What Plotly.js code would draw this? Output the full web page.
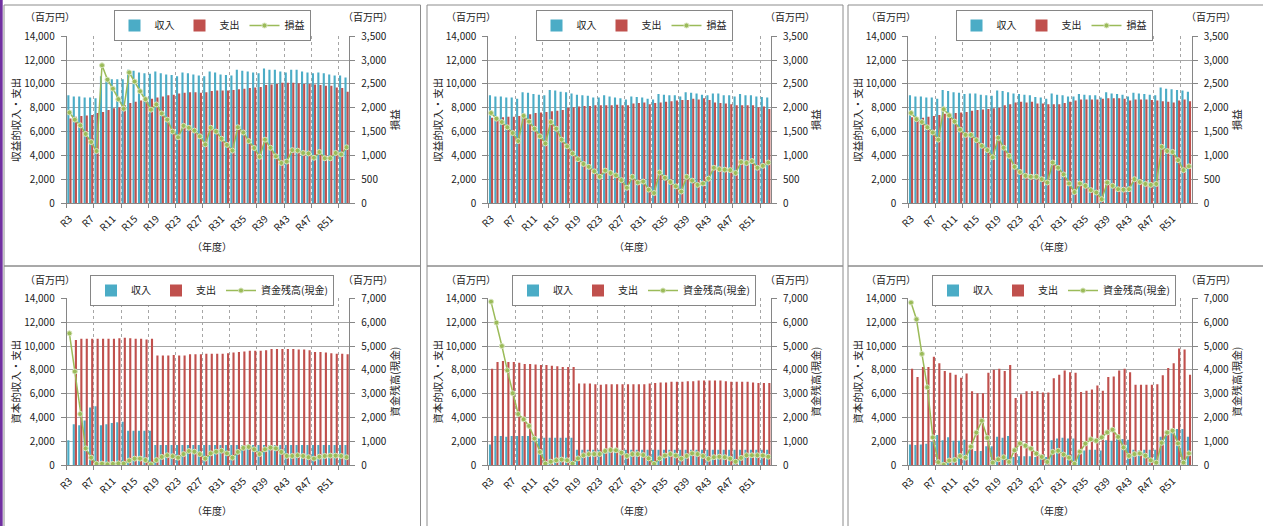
<!DOCTYPE html>
<html><head><meta charset="utf-8">
<script src="https://cdn.plot.ly/plotly-3.0.1.min.js"></script>
<style>html,body{margin:0;padding:0;background:#fff;}#chart{width:1263px;height:526px;}</style>
</head><body><div id="chart"></div>
<script>
const years = ['R3','R4','R5','R6','R7','R8','R9','R10','R11','R12','R13','R14','R15','R16','R17','R18','R19','R20','R21','R22','R23','R24','R25','R26','R27','R28','R29','R30','R31','R32','R33','R34','R35','R36','R37','R38','R39','R40','R41','R42','R43','R44','R45','R46','R47','R48','R49','R50','R51','R52','R53','R54'];
const tickLabels = ['R3','R7','R11','R15','R19','R23','R27','R31','R35','R39','R43','R47','R51'];

// Panel 1 (収益的)
const p1Income = [9050,8950,8950,8850,8850,8800, 10650,10450,10400,10400,10400, 11200,11100,10950,10900,10850, 11050,10900,10800,10750,10650, 10950,10900,10800,10700,10650, 11050,10950,10800,10750,10700, 11200,11100,11050,10950,10900, 11300,11200,11200,11050,10950, 11200,11200,11050,10950,10900, 10950,10900,10800,10700,10700,10550];
const p1Expense = [7100,7250,7300,7350,7400,7550, 7650,7800,7950,8050,8200, 8400,8500,8600,8650,8750, 8850,8950,9050,9100,9200, 9250,9300,9300,9250,9300, 9400,9450,9450,9450,9500, 9550,9600,9650,9700,9750, 9900,9950,10000,10100,10100, 10100,10050,10000,10000,9950, 9900,9850,9850,9700,9650,9350];
const p1Profit = [1900,1750,1630,1450,1280,1090, 2890,2590,2400,2180,1980, 2740,2550,2345,2180,1960, 2070,1880,1750,1500,1380, 1620,1580,1520,1400,1230, 1580,1500,1350,1220,1100, 1590,1480,1300,1155,970, 1330,1160,980,840,870, 1110,1100,1050,1040,950, 1070,940,940,1050,1020,1170];

// Panel 2
const p2Income = [9050,8950,8950,8850,8850,8750, 9300,9250,9150,9100,9050, 9500,9450,9350,9300,9200, 9100,9050,9000,8850,8850, 9050,8950,8850,8800,8700, 8950,8900,8850,8750,8700, 9150,9100,9050,9050,8950, 9300,9250,9200,9100,9050, 9200,9200,9050,9050,8950, 9150,9050,9050,8950,8900,8850];
const p2Expense = [7150,7150,7200,7250,7250,7300, 7400,7450,7550,7600,7650, 7700,7750,7800,8000,8050, 8100,8150,8150,8200,8200, 8200,8200,8250,8200,8200, 8350,8400,8450,8300,8400, 8450,8500,8550,8600,8650, 8650,8750,8700,8800,8650, 8450,8400,8350,8300,8200, 8200,8200,8200,8050,8100,7900];
const p2Profit = [1890,1770,1700,1590,1470,1300, 1830,1710,1560,1400,1250, 1700,1560,1330,1190,1040, 920,820,760,665,550, 680,630,580,480,320, 550,430,450,280,210, 640,530,440,350,240, 550,470,380,410,510, 740,710,700,690,630, 860,840,880,740,780,850];

// Panel 3
const p3Income = [9050,8950,8950,8850,8850,8750, 9500,9400,9300,9250,9150, 9200,9200,9100,9050,9000, 9450,9400,9300,9200,9150, 9100,9050,8900,8850,8750, 9200,9100,9050,8950,8950, 9150,9100,9050,9050,8850, 9300,9200,9150,9100,8950, 9250,9200,9150,9100,9050, 9700,9600,9550,9500,9450,9350];
const p3Expense = [7200,7150,7150,7250,7300,7400, 7500,7500,7550,7600,7650, 7750,7800,7850,7900,7950, 8000,8200,8300,8450,8500, 8450,8500,8350,8350,8300, 8300,8300,8400,8500,8600, 8700,8700,8700,8700,8750, 8800,8800,8800,8750,8600, 8700,8700,8700,8650,8600, 8550,8500,8450,8600,8700,8550];
const p3Profit = [1890,1760,1700,1590,1480,1330, 1970,1840,1710,1540,1430, 1430,1320,1200,1110,960, 1370,1160,990,760,650, 570,550,550,500,430, 850,740,600,410,230, 410,360,270,220,80, 430,360,290,280,290, 500,440,400,380,400, 1180,1090,1070,900,690,770];

// Panel 4 (資本的)
const p4Income = [2100,3450,3350,3750,4850,4950,3350,3450,3550,3600,3650,2900,2900,2900,2900,2900,1700,1700,1700,1700,1700,1700,1700,1700,1700,1700,1700,1700,1700,1700,1700,1700,1700,1700,1700,1700,1700,1700,1700,1700,1700,1700,1700,1700,1700,1700,1700,1700,1700,1700,1700,1700];
const p4Expense = [0,10500,10600,10600,10600,10600,10600,10600,10600,10650,10700,10650,10600,10600,10550,10600, 9200,9200,9200,9250,9200,9200,9300,9300,9300,9350,9350,9350,9350,9400,9450,9500,9550,9600,9600,9600,9650,9750,9750,9750,9750,9750,9700,9700,9650,9500,9500,9450,9400,9350,9350,9300];
const p4Cash = [5530,3930,2150,710,320,60,70,40,60,80,70,200,280,280,220,40,220,350,420,380,320,470,600,570,470,280,500,570,610,500,320,560,730,770,670,470,670,740,710,560,390,390,420,390,340,280,360,390,405,405,390,340];

// Panel 5
const p5Income = [1750,2450,2450,2400,2450,2450,2450,2450,2450,2250,2300,2300,2300,2300,2300,2300,1300,1300,1300,1300,1300,1300,1300,1300,1300,1300,1300,1300,1300,1300,1300,1300,1300,1300,1300,1300,1300,1300,1300,1300,1300,1300,1300,1300,1300,1300,1300,1300,1300,1300,1300,1300];
const p5Expense = [8100,8650,8750,8650,8650,8600,8500,8500,8450,8400,8400,8350,8300,8250,8250,8250, 6850,6850,6850,6800,6750,6800,6800,6800,6800,6800,6800,6800,6800,6850,6900,6950,6950,7000,7000,7000,7050,7050,7100,7100,7100,7100,7100,7050,7000,7000,7000,7000,6950,6900,6900,6900];
const p5Cash = [6860,5980,5000,3980,3020,2150,1930,1650,1120,560,70,150,210,240,210,70,290,420,470,470,470,600,640,630,530,390,470,470,430,290,60,290,410,470,410,280,390,500,470,390,270,340,360,340,280,150,310,420,420,420,410,360];

// Panel 6
const p6Income = [1750,1700,1750,1800,1950,2550,2100,2350,2050,2050,2150,1350,1200,1200,1600,1600,2400,2300,2450,700,750,750,750,700,650,700,2100,2250,2300,2250,2250,1200,1250,1300,1300,1250,2100,2050,2200,2200,2150,1300,1250,1300,1300,1300,2400,2500,2700,3050,3050,2400];
const p6Expense = [8100,7400,8250,8250,9100,8550,7900,7750,7600,7350,7700,6200,6050,6050,7750,8000,8100,7900,8400,5650,5950,6200,6200,6200,6100,6100,7300,7600,7950,7800,7750,6150,6250,6350,6700,6250,7400,7450,7950,8100,7800,6750,6750,6750,6750,6800,7550,8150,8550,9800,9700,7600];
const p6Cash = [6820,6120,4670,3270,1170,130,20,200,220,390,320,780,1370,1870,1150,110,250,340,140,630,920,820,700,490,350,140,560,610,450,320,60,570,910,1090,1030,1170,1380,1490,1190,750,390,470,500,405,210,110,940,1370,1450,920,110,500];

const W = 1263, H = 526;
const px = p => p / W;
const py = p => 1 - p / H;
const idx = years.map((c, i) => i);
const labelIdx = tickLabels.map(t => years.indexOf(t));
const bounds = [];
for (let i = 0; i * 5 - 0.5 < years.length - 1; i++) bounds.push(i * 5 - 0.5);

const FONT = 'Noto Sans CJK JP, Noto Sans, sans-serif';
const TXT = '#222';
const AX = '#868686';

const cols = [[66.7, 349.3], [488.3, 771], [908.3, 1191.7]];
const rows = [[36.3, 203], [298.3, 465.3]];
const legendCx = [212, 634, 1054];
const legendTop = [10, 275];
const unitY = [16, 279];
const yearY = [247, 510];

const panels = [
  {inc: p1Income, exp: p1Expense, line: p1Profit, lname: '損益', rmax: 3500, rdt: 500, lt: '収益的収入・支出', rt: '損益'},
  {inc: p2Income, exp: p2Expense, line: p2Profit, lname: '損益', rmax: 3500, rdt: 500, lt: '収益的収入・支出', rt: '損益'},
  {inc: p3Income, exp: p3Expense, line: p3Profit, lname: '損益', rmax: 3500, rdt: 500, lt: '収益的収入・支出', rt: '損益'},
  {inc: p4Income, exp: p4Expense, line: p4Cash, lname: '資金残高(現金)', rmax: 7000, rdt: 1000, lt: '資本的収入・支出', rt: '資金残高(現金)'},
  {inc: p5Income, exp: p5Expense, line: p5Cash, lname: '資金残高(現金)', rmax: 7000, rdt: 1000, lt: '資本的収入・支出', rt: '資金残高(現金)'},
  {inc: p6Income, exp: p6Expense, line: p6Cash, lname: '資金残高(現金)', rmax: 7000, rdt: 1000, lt: '資本的収入・支出', rt: '資金残高(現金)'}
];

const data = [];
const layout = {
  width: W, height: H,
  margin: {l: 0, r: 0, t: 0, b: 0},
  paper_bgcolor: '#fff', plot_bgcolor: '#fff',
  font: {family: FONT, size: 10, color: TXT},
  barmode: 'group', bargap: 0.22, bargroupgap: 0,
  showlegend: true,
  shapes: [], annotations: []
};

panels.forEach((p, k) => {
  const n = k + 1;
  const r = Math.floor(k / 3), c = k % 3;
  const xid = n === 1 ? 'x' : 'x' + n;
  const yl = (2 * n - 1) === 1 ? 'y' : 'y' + (2 * n - 1);
  const yr = 'y' + (2 * n);
  const lg = n === 1 ? 'legend' : 'legend' + n;
  data.push({type: 'bar', x: idx, y: p.inc, name: '収入', marker: {color: '#4BACC6'}, xaxis: xid, yaxis: yl, legend: lg});
  data.push({type: 'bar', x: idx, y: p.exp, name: '支出', marker: {color: '#C0504D'}, xaxis: xid, yaxis: yl, legend: lg});
  data.push({type: 'scatter', mode: 'lines+markers', x: idx, y: p.line, name: p.lname,
    line: {color: '#9BBB59', width: 1.5}, marker: {size: 5, color: '#9BBB59', line: {color: '#d7e4bd', width: 1}},
    xaxis: xid, yaxis: yr, legend: lg});

  const xk = n === 1 ? 'xaxis' : 'xaxis' + n;
  const ylk = 'yaxis' + ((2 * n - 1) === 1 ? '' : (2 * n - 1));
  const yrk = 'yaxis' + (2 * n);
  layout[xk] = {
    domain: [px(cols[c][0]), px(cols[c][1])], anchor: yl,
    range: [-0.5, years.length - 0.5], tickmode: 'array', tickvals: labelIdx, ticktext: tickLabels,
    tickangle: -45, ticks: '', showgrid: false, showline: true, linecolor: AX, zeroline: false,
    tickfont: {size: 10, color: TXT}, ticklabelstandoff: 5,
    minor: {tickmode: 'array', tickvals: bounds, ticks: 'outside', ticklen: 4, tickcolor: AX,
      showgrid: true, gridcolor: '#a6a6a6', griddash: 'dot', gridwidth: 1},
    fixedrange: true
  };
  layout[ylk] = {
    domain: [py(rows[r][1]), py(rows[r][0])], anchor: xid,
    range: [0, 14000], tickmode: 'linear', tick0: 0, dtick: 2000, tickformat: ',d',
    showgrid: true, gridcolor: '#a6a6a6', gridwidth: 1, showline: true, linecolor: AX,
    ticks: 'outside', ticklen: 5, tickcolor: AX, zeroline: false, ticklabelstandoff: 4,
    tickfont: {size: 10, color: TXT},
    title: {text: p.lt, font: {size: 10.5, color: TXT}, standoff: 1}, fixedrange: true
  };
  layout[yrk] = {
    overlaying: yl, side: 'right', anchor: xid,
    range: [0, p.rmax], tickmode: 'linear', tick0: 0, dtick: p.rdt, tickformat: ',d',
    showgrid: false, showline: true, linecolor: AX, ticks: 'outside', ticklen: 5, tickcolor: AX,
    zeroline: false, ticklabelstandoff: 4, tickfont: {size: 10, color: TXT},
    title: {text: p.rt, font: {size: 10.5, color: TXT}, standoff: 1}, fixedrange: true
  };
  layout[lg] = {
    x: px(legendCx[c]), xanchor: 'center', y: py(legendTop[r]), yanchor: 'top',
    orientation: 'h', bordercolor: AX, borderwidth: 1, bgcolor: '#fff',
    font: {size: 10, color: TXT}, traceorder: 'normal', itemwidth: 30, tracegroupgap: 0
  };
  layout.annotations.push({text: '（百万円）', xref: 'paper', yref: 'paper', x: px(cols[c][0] - 17), y: py(unitY[r]), xanchor: 'center', yanchor: 'middle', showarrow: false, font: {size: 10, color: TXT}});
  layout.annotations.push({text: '（百万円）', xref: 'paper', yref: 'paper', x: px(cols[c][1] + 19), y: py(unitY[r]), xanchor: 'center', yanchor: 'middle', showarrow: false, font: {size: 10, color: TXT}});
  layout.annotations.push({text: '（年度）', xref: 'paper', yref: 'paper', x: px((cols[c][0] + cols[c][1]) / 2 + 4), y: py(yearY[r]), xanchor: 'center', yanchor: 'middle', showarrow: false, font: {size: 10, color: TXT}});
});

// panel frames and left accent strip
const frames = [[4, 5, 420.5, 266], [427, 5, 843, 266], [848, 5, 1270, 266], [4, 266, 420.5, 530], [427, 266, 843, 530], [848, 266, 1270, 530]];
frames.forEach(f => layout.shapes.push({type: 'rect', xref: 'paper', yref: 'paper', x0: px(f[0]), x1: px(f[2]), y0: py(f[3]), y1: py(f[1]), line: {color: '#8c8c8c', width: 1}, layer: 'below'}));
layout.shapes.push({type: 'rect', xref: 'paper', yref: 'paper', x0: 0, x1: px(2.7), y0: 0, y1: 1, fillcolor: '#7030A0', line: {width: 0}, layer: 'below'});

Plotly.newPlot('chart', data, layout, {staticPlot: true, displayModeBar: false});
</script></body></html>
